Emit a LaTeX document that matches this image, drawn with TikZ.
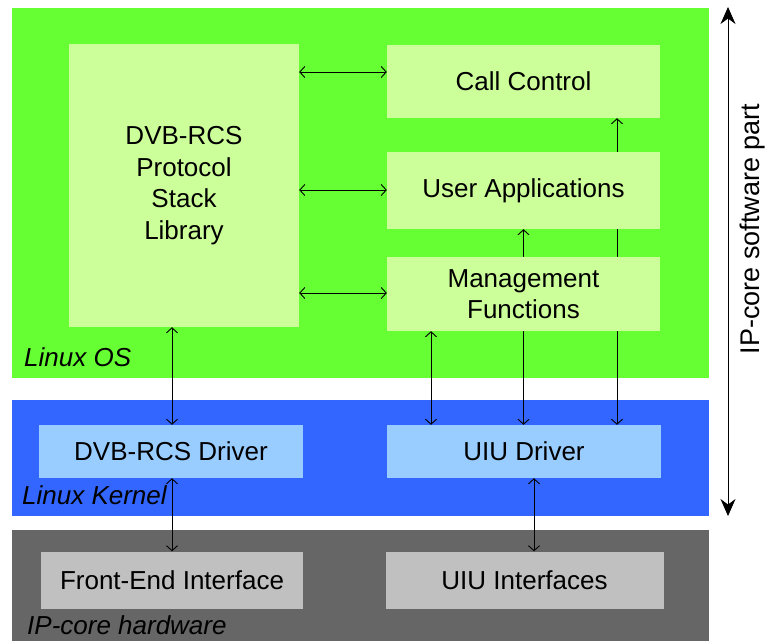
\documentclass[tikz,border=0pt]{standalone}
\usepackage{fontspec}
\setmainfont{Liberation Sans}
\usetikzlibrary{arrows.meta}
\definecolor{osgreen}{HTML}{66FF33}
\definecolor{boxgreen}{HTML}{CCFF99}
\definecolor{kblue}{HTML}{3366FF}
\definecolor{boxblue}{HTML}{99CCFF}
\definecolor{hwgray}{HTML}{666666}
\definecolor{boxgray}{HTML}{C0C0C0}
\pgfdeclarelayer{bg}
\pgfdeclarelayer{mid}
\pgfsetlayers{bg,mid,main}
\tikzset{
  box/.style={inner sep=0pt, align=center, font=\fontsize{26}{31.5}\selectfont},
  osbox/.style={box, fill=boxgreen},
  kbox/.style={box, fill=boxblue},
  hwbox/.style={box, fill=boxgray},
  layerlbl/.style={inner sep=0pt, anchor=base west, font=\fontsize{26}{30}\selectfont\itshape},
  conn/.style={{Straight Barb[length=5pt,width=11pt]}-{Straight Barb[length=5pt,width=11pt]}, line width=0.9pt},
  bigarrow/.style={{Stealth[length=17pt,width=15pt]}-{Stealth[length=17pt,width=15pt]}, line width=0.8pt}
}
\begin{document}
\begin{tikzpicture}[x=1pt,y=-1pt]
\useasboundingbox (0,0) rectangle (767,641);
\begin{pgfonlayer}{bg}
  \fill[osgreen] (12,8) rectangle (709,378);
  \fill[kblue] (12,400) rectangle (709,516);
  \fill[hwgray] (12,530) rectangle (709,641);
\end{pgfonlayer}

% boxes
\node[osbox, minimum width=230pt, minimum height=283pt] (stack) at (184,185.5) {DVB-RCS\\Protocol\\Stack\\Library};
\node[osbox, minimum width=273pt, minimum height=73pt] (call) at (523.5,81.5) {Call Control};
\node[osbox, minimum width=273pt, minimum height=77pt] (user) at (523.5,190.5) {User Applications};
\node[osbox, minimum width=273pt, minimum height=74pt] (mgmt) at (523.5,294) {Management\\Functions};
\node[kbox, minimum width=264pt, minimum height=53pt] (dvbdrv) at (171,451.5) {DVB-RCS Driver};
\node[kbox, minimum width=274pt, minimum height=53pt] (uiudrv) at (524,451.5) {UIU Driver};
\node[hwbox, minimum width=262pt, minimum height=57pt] (fe) at (172,580) {Front-End Interface};
\node[hwbox, minimum width=278pt, minimum height=57pt] (uiuif) at (524.5,580) {UIU Interfaces};

% layer labels
\node[layerlbl] (oslbl) at (24,366) {Linux OS};
\node[layerlbl] (klbl) at (22,504) {Linux Kernel};
\node[layerlbl] (hwlbl) at (27,634) {IP-core hardware};

% horizontal connectors
\coordinate (c1) at ([yshift=9.5pt]call.west);
\coordinate (c2) at ([yshift=0.5pt]user.west);
\coordinate (c3) at ([yshift=1pt]mgmt.west);
\draw[conn] (stack.east |- c1) -- (c1);
\draw[conn] (stack.east |- c2) -- (c2);
\draw[conn] (stack.east |- c3) -- (c3);

% vertical connectors, left column
\draw[conn] (stack.south -| fe.north) -- (dvbdrv.north -| fe.north);
\draw[conn] (dvbdrv.south -| fe.north) -- (fe.north);

% right column
\coordinate (m1) at ([xshift=-92.5pt]mgmt.south);
\draw[conn] (m1) -- (uiudrv.north -| m1);
\coordinate (u1) at ([xshift=9.5pt]uiuif.north);
\draw[conn] (uiudrv.south -| u1) -- (u1);
\begin{pgfonlayer}{mid}
  \draw[conn] (user.south) -- (uiudrv.north -| user.south);
  \coordinate (k1) at ([xshift=93.5pt]call.south);
  \draw[conn] (k1) -- (uiudrv.north -| k1);
\end{pgfonlayer}

% software part arrow
\coordinate (swtop) at (728,7);
\coordinate (swbot) at (728,516);
\draw[bigarrow] (swtop) -- (swbot);
\node[rotate=90, anchor=base, inner sep=0pt, font=\fontsize{27}{30}\selectfont] (swlbl) at (759,229) {IP-core software part};
\end{tikzpicture}
\end{document}
